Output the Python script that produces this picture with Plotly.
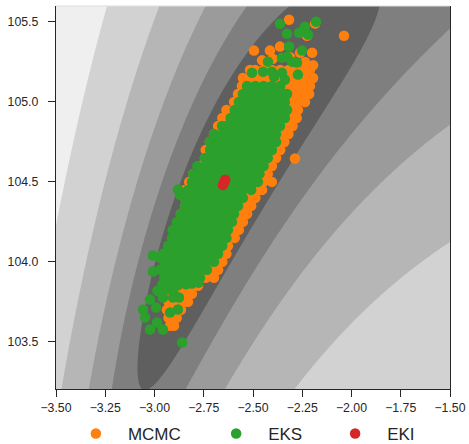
import numpy as np
import plotly.graph_objects as go

# ---------------- model used for the background contours ----------------
y_obs = [27.45, 79.7]         # observed data
obs_locations = [0.25, 0.75]  # observation points of the forward model
noise_std = 0.1               # observational noise std

x_range = [-3.5, -1.5]
y_range = [103.205, 105.6]
x_ticks = [-3.5, -3.25, -3.0, -2.75, -2.5, -2.25, -2.0, -1.75, -1.5]
y_ticks = [103.5, 104.0, 104.5, 105.0, 105.5]

# contour levels of log-misfit and their fill colours (darkest = lowest misfit)
level_start, level_end, level_step = 2.36, 5.60, 0.81
band_colors = ["#5f5f5f", "#7f7f7f", "#9b9b9b", "#b6b6b6", "#d2d2d2", "#efefef"]

series_names = ["MCMC", "EKS", "EKI"]
series_colors = ["#ff7f0e", "#2ca02c", "#d62728"]

# ---------------- samples (u1, u2) ----------------
mcmc_points = [
    (-2.317, 105.514), (-2.185, 105.49), (-2.226, 105.414), (-2.038, 105.414),
    (-2.495, 105.321), (-2.414, 105.321), (-2.363, 105.346), (-2.261, 105.308), (-2.200, 105.308),
    (-2.454, 105.26), (-2.400, 105.27), (-2.312, 105.28), (-2.236, 105.25), (-2.195, 105.23),
    (-2.515, 105.20), (-2.488, 105.20), (-2.446, 105.20), (-2.404, 105.20), (-2.362, 105.20), (-2.320, 105.20), (-2.278, 105.20), (-2.236, 105.20), (-2.211, 105.20),
    (-2.551, 105.15), (-2.509, 105.15), (-2.467, 105.15), (-2.425, 105.15), (-2.383, 105.15), (-2.341, 105.15), (-2.299, 105.15), (-2.257, 105.15), (-2.215, 105.15), (-2.195, 105.15),
    (-2.556, 105.10), (-2.530, 105.10), (-2.488, 105.10), (-2.446, 105.10), (-2.404, 105.10), (-2.362, 105.10), (-2.320, 105.10), (-2.278, 105.10), (-2.236, 105.10), (-2.211, 105.10),
    (-2.576, 105.05), (-2.551, 105.05), (-2.509, 105.05), (-2.467, 105.05), (-2.425, 105.05), (-2.383, 105.05), (-2.341, 105.05), (-2.299, 105.05), (-2.257, 105.05), (-2.215, 105.05),
    (-2.596, 105.00), (-2.572, 105.00), (-2.530, 105.00), (-2.488, 105.00), (-2.446, 105.00), (-2.404, 105.00), (-2.362, 105.00), (-2.320, 105.00), (-2.278, 105.00), (-2.236, 105.00),
    (-2.635, 104.95), (-2.593, 104.95), (-2.551, 104.95), (-2.509, 104.95), (-2.467, 104.95), (-2.425, 104.95), (-2.383, 104.95), (-2.341, 104.95), (-2.299, 104.95), (-2.272, 104.95),
    (-2.656, 104.90), (-2.614, 104.90), (-2.572, 104.90), (-2.530, 104.90), (-2.488, 104.90), (-2.446, 104.90), (-2.404, 104.90), (-2.362, 104.90), (-2.320, 104.90), (-2.278, 104.90),
    (-2.677, 104.85), (-2.635, 104.85), (-2.593, 104.85), (-2.551, 104.85), (-2.509, 104.85), (-2.467, 104.85), (-2.425, 104.85), (-2.383, 104.85), (-2.341, 104.85), (-2.299, 104.85),
    (-2.698, 104.80), (-2.656, 104.80), (-2.614, 104.80), (-2.572, 104.80), (-2.530, 104.80), (-2.488, 104.80), (-2.446, 104.80), (-2.404, 104.80), (-2.362, 104.80), (-2.320, 104.80),
    (-2.719, 104.75), (-2.677, 104.75), (-2.635, 104.75), (-2.593, 104.75), (-2.551, 104.75), (-2.509, 104.75), (-2.467, 104.75), (-2.425, 104.75), (-2.383, 104.75), (-2.341, 104.75),
    (-2.740, 104.70), (-2.698, 104.70), (-2.656, 104.70), (-2.614, 104.70), (-2.572, 104.70), (-2.530, 104.70), (-2.488, 104.70), (-2.446, 104.70), (-2.404, 104.70), (-2.362, 104.70),
    (-2.744, 104.65), (-2.719, 104.65), (-2.677, 104.65), (-2.635, 104.65), (-2.593, 104.65), (-2.551, 104.65), (-2.509, 104.65), (-2.467, 104.65), (-2.425, 104.65), (-2.383, 104.65), (-2.287, 104.646),
    (-2.769, 104.60), (-2.740, 104.60), (-2.698, 104.60), (-2.656, 104.60), (-2.614, 104.60), (-2.572, 104.60), (-2.530, 104.60), (-2.488, 104.60), (-2.446, 104.60), (-2.404, 104.60),
    (-2.803, 104.55), (-2.761, 104.55), (-2.719, 104.55), (-2.677, 104.55), (-2.635, 104.55), (-2.593, 104.55), (-2.551, 104.55), (-2.509, 104.55), (-2.467, 104.55), (-2.425, 104.55),
    (-2.824, 104.50), (-2.782, 104.50), (-2.740, 104.50), (-2.698, 104.50), (-2.656, 104.50), (-2.614, 104.50), (-2.572, 104.50), (-2.530, 104.50), (-2.488, 104.50), (-2.446, 104.50), (-2.404, 104.50),
    (-2.845, 104.45), (-2.803, 104.45), (-2.761, 104.45), (-2.719, 104.45), (-2.677, 104.45), (-2.635, 104.45), (-2.593, 104.45), (-2.551, 104.45), (-2.509, 104.45), (-2.467, 104.45), (-2.454, 104.45),
    (-2.845, 104.40), (-2.824, 104.40), (-2.782, 104.40), (-2.740, 104.40), (-2.698, 104.40), (-2.656, 104.40), (-2.614, 104.40), (-2.572, 104.40), (-2.530, 104.40), (-2.488, 104.40),
    (-2.845, 104.35), (-2.803, 104.35), (-2.761, 104.35), (-2.719, 104.35), (-2.677, 104.35), (-2.635, 104.35), (-2.593, 104.35), (-2.551, 104.35), (-2.509, 104.35),
    (-2.866, 104.30), (-2.824, 104.30), (-2.782, 104.30), (-2.740, 104.30), (-2.698, 104.30), (-2.656, 104.30), (-2.614, 104.30), (-2.572, 104.30), (-2.530, 104.30),
    (-2.865, 104.25), (-2.845, 104.25), (-2.803, 104.25), (-2.761, 104.25), (-2.719, 104.25), (-2.677, 104.25), (-2.635, 104.25), (-2.593, 104.25), (-2.551, 104.25),
    (-2.881, 104.20), (-2.866, 104.20), (-2.824, 104.20), (-2.782, 104.20), (-2.740, 104.20), (-2.698, 104.20), (-2.656, 104.20), (-2.614, 104.20), (-2.572, 104.20),
    (-2.887, 104.15), (-2.845, 104.15), (-2.803, 104.15), (-2.761, 104.15), (-2.719, 104.15), (-2.677, 104.15), (-2.635, 104.15), (-2.593, 104.15),
    (-2.908, 104.10), (-2.866, 104.10), (-2.824, 104.10), (-2.782, 104.10), (-2.740, 104.10), (-2.698, 104.10), (-2.656, 104.10), (-2.627, 104.10),
    (-2.929, 104.05), (-2.887, 104.05), (-2.845, 104.05), (-2.803, 104.05), (-2.761, 104.05), (-2.719, 104.05), (-2.677, 104.05), (-2.635, 104.05),
    (-2.921, 104.00), (-2.908, 104.00), (-2.866, 104.00), (-2.824, 104.00), (-2.782, 104.00), (-2.740, 104.00), (-2.698, 104.00), (-2.656, 104.00),
    (-2.929, 103.95), (-2.887, 103.95), (-2.845, 103.95), (-2.803, 103.95), (-2.761, 103.95), (-2.719, 103.95), (-2.677, 103.95),
    (-2.921, 103.90), (-2.908, 103.90), (-2.866, 103.90), (-2.824, 103.90), (-2.782, 103.90), (-2.740, 103.90), (-2.698, 103.90),
    (-2.929, 103.85), (-2.887, 103.85), (-2.845, 103.85), (-2.803, 103.85), (-2.779, 103.85),
    (-2.937, 103.80), (-2.908, 103.80), (-2.866, 103.80), (-2.824, 103.80), (-2.810, 103.80),
    (-2.929, 103.75), (-2.887, 103.75), (-2.845, 103.75), (-2.830, 103.75),
    (-2.937, 103.70), (-2.908, 103.70), (-2.866, 103.70),
    (-2.929, 103.65), (-2.887, 103.65),
    (-2.921, 103.60), (-2.901, 103.60),
]

eks_points = [
    (-2.363, 105.489), (-2.180, 105.502), (-2.236, 105.471),
    (-2.327, 105.427), (-2.266, 105.433), (-2.221, 105.421),
    (-2.317, 105.346), (-2.251, 105.321),
    (-2.424, 105.252), (-2.353, 105.277), (-2.327, 105.283), (-2.302, 105.252), (-2.277, 105.246),
    (-2.505, 105.183), (-2.449, 105.189), (-2.404, 105.189), (-2.393, 105.158), (-2.353, 105.183), (-2.338, 105.139), (-2.272, 105.171),
    (-2.530, 105.10), (-2.488, 105.10), (-2.446, 105.10), (-2.404, 105.10), (-2.362, 105.10),
    (-2.551, 105.05), (-2.509, 105.05), (-2.467, 105.05), (-2.425, 105.05), (-2.383, 105.05), (-2.341, 105.05), (-2.327, 105.05),
    (-2.572, 105.00), (-2.530, 105.00), (-2.488, 105.00), (-2.446, 105.00), (-2.404, 105.00), (-2.362, 105.00), (-2.338, 105.00),
    (-2.593, 104.95), (-2.551, 104.95), (-2.509, 104.95), (-2.467, 104.95), (-2.425, 104.95), (-2.383, 104.95), (-2.341, 104.95), (-2.327, 104.95),
    (-2.614, 104.90), (-2.572, 104.90), (-2.530, 104.90), (-2.488, 104.90), (-2.446, 104.90), (-2.404, 104.90), (-2.362, 104.90), (-2.338, 104.90),
    (-2.657, 104.85), (-2.635, 104.85), (-2.593, 104.85), (-2.551, 104.85), (-2.509, 104.85), (-2.467, 104.85), (-2.425, 104.85), (-2.383, 104.85), (-2.363, 104.85),
    (-2.698, 104.80), (-2.656, 104.80), (-2.614, 104.80), (-2.572, 104.80), (-2.530, 104.80), (-2.488, 104.80), (-2.446, 104.80), (-2.404, 104.80), (-2.383, 104.80),
    (-2.719, 104.75), (-2.677, 104.75), (-2.635, 104.75), (-2.593, 104.75), (-2.551, 104.75), (-2.509, 104.75), (-2.467, 104.75), (-2.425, 104.75), (-2.383, 104.75),
    (-2.718, 104.70), (-2.698, 104.70), (-2.656, 104.70), (-2.614, 104.70), (-2.572, 104.70), (-2.530, 104.70), (-2.488, 104.70), (-2.446, 104.70), (-2.404, 104.70),
    (-2.744, 104.65), (-2.719, 104.65), (-2.677, 104.65), (-2.635, 104.65), (-2.593, 104.65), (-2.551, 104.65), (-2.509, 104.65), (-2.467, 104.65), (-2.425, 104.65),
    (-2.782, 104.60), (-2.740, 104.60), (-2.698, 104.60), (-2.656, 104.60), (-2.614, 104.60), (-2.572, 104.60), (-2.530, 104.60), (-2.488, 104.60), (-2.446, 104.60),
    (-2.803, 104.55), (-2.761, 104.55), (-2.719, 104.55), (-2.677, 104.55), (-2.635, 104.55), (-2.593, 104.55), (-2.551, 104.55), (-2.509, 104.55), (-2.467, 104.55),
    (-2.810, 104.50), (-2.782, 104.50), (-2.740, 104.50), (-2.698, 104.50), (-2.656, 104.50), (-2.614, 104.50), (-2.572, 104.50), (-2.530, 104.50), (-2.488, 104.50), (-2.475, 104.50),
    (-2.830, 104.45), (-2.803, 104.45), (-2.761, 104.45), (-2.719, 104.45), (-2.677, 104.45), (-2.635, 104.45), (-2.593, 104.45), (-2.551, 104.45), (-2.509, 104.45),
    (-2.881, 104.452), (-2.871, 104.42),
    (-2.845, 104.40), (-2.824, 104.40), (-2.782, 104.40), (-2.740, 104.40), (-2.698, 104.40), (-2.656, 104.40), (-2.614, 104.40), (-2.572, 104.40), (-2.551, 104.40),
    (-2.845, 104.35), (-2.803, 104.35), (-2.761, 104.35), (-2.719, 104.35), (-2.677, 104.35), (-2.635, 104.35), (-2.593, 104.35), (-2.576, 104.35),
    (-2.866, 104.30), (-2.824, 104.30), (-2.782, 104.30), (-2.740, 104.30), (-2.698, 104.30), (-2.656, 104.30), (-2.614, 104.30), (-2.596, 104.30),
    (-2.887, 104.25), (-2.845, 104.25), (-2.803, 104.25), (-2.761, 104.25), (-2.719, 104.25), (-2.677, 104.25), (-2.635, 104.25), (-2.607, 104.25),
    (-2.908, 104.20), (-2.866, 104.20), (-2.824, 104.20), (-2.782, 104.20), (-2.740, 104.20), (-2.698, 104.20), (-2.656, 104.20), (-2.627, 104.20),
    (-2.911, 104.15), (-2.887, 104.15), (-2.845, 104.15), (-2.803, 104.15), (-2.761, 104.15), (-2.719, 104.15), (-2.677, 104.15), (-2.635, 104.15),
    (-2.931, 104.10), (-2.908, 104.10), (-2.866, 104.10), (-2.824, 104.10), (-2.782, 104.10), (-2.740, 104.10), (-2.698, 104.10), (-2.656, 104.10),
    (-2.957, 104.05), (-2.929, 104.05), (-2.887, 104.05), (-2.845, 104.05), (-2.803, 104.05), (-2.761, 104.05), (-2.719, 104.05), (-2.677, 104.05),
    (-3.008, 104.04), (-2.972, 104.027),
    (-2.950, 104.00), (-2.908, 104.00), (-2.866, 104.00), (-2.824, 104.00), (-2.782, 104.00), (-2.740, 104.00), (-2.698, 104.00),
    (-2.971, 103.95), (-2.929, 103.95), (-2.887, 103.95), (-2.845, 103.95), (-2.803, 103.95), (-2.761, 103.95), (-2.734, 103.95),
    (-3.008, 103.94),
    (-2.950, 103.90), (-2.908, 103.90), (-2.866, 103.90), (-2.824, 103.90), (-2.782, 103.90), (-2.769, 103.90),
    (-2.960, 103.86), (-2.920, 103.865), (-2.880, 103.855), (-2.840, 103.86), (-2.810, 103.865), (-2.775, 103.87),
    (-2.985, 103.82), (-2.945, 103.825), (-2.905, 103.815),
    (-3.023, 103.764), (-2.957, 103.777), (-2.906, 103.777), (-2.876, 103.777),
    (-3.058, 103.702), (-2.992, 103.714), (-2.921, 103.683), (-2.881, 103.702),
    (-3.048, 103.652), (-2.987, 103.621),
    (-3.023, 103.577), (-2.957, 103.577),
    (-2.860, 103.496),
]

eki_points = [(-2.653, 104.480), (-2.647, 104.497), (-2.641, 104.514)]

# ---------------- background contour surface ----------------
u1_grid = np.linspace(x_range[0], x_range[1], 401)
u2_grid = np.linspace(103.2, 105.6, 401)
U1, U2 = np.meshgrid(u1_grid, u2_grid)
misfit = np.zeros_like(U1)
for loc, yo in zip(obs_locations, y_obs):
    pred = U2 * loc + np.exp(-U1) * (loc - loc ** 2) / 2.0
    misfit += (yo - pred) ** 2
misfit = misfit / (2 * noise_std ** 2)
log_misfit = np.log(misfit)

n_bands = len(band_colors)
colorscale = [[i / (n_bands - 1), c] for i, c in enumerate(band_colors)]

fig = go.Figure()
fig.add_trace(go.Contour(
    x=u1_grid, y=u2_grid, z=log_misfit,
    autocontour=False,
    contours=dict(start=level_start, end=level_end, size=level_step,
                  coloring="fill", showlines=False),
    line=dict(width=0),
    colorscale=colorscale, showscale=False, hoverinfo="skip", showlegend=False,
))

all_points = [mcmc_points, eks_points, eki_points]
legend_ids = ["legend", "legend2", "legend3"]
for name, color, pts, lg in zip(series_names, series_colors, all_points, legend_ids):
    fig.add_trace(go.Scatter(
        x=[p[0] for p in pts], y=[p[1] for p in pts],
        mode="markers", name=name,
        marker=dict(color=color, size=10.5, line=dict(width=0)),
        legend=lg,
    ))

axis_color = "#262626"
tick_font = dict(family="Liberation Sans, Arial, sans-serif", size=12.3, color=axis_color)
legend_font = dict(family="Liberation Sans, Arial, sans-serif", size=17, color=axis_color)

legend_common = dict(orientation="h", yanchor="middle", y=-0.1175, xanchor="left",
                     bgcolor="rgba(0,0,0,0)", borderwidth=0, font=legend_font,
                     itemwidth=54)
fig.update_layout(
    width=469, height=444,
    margin=dict(l=56, r=19, t=6, b=55, autoexpand=False),
    paper_bgcolor="white", plot_bgcolor="white",
    showlegend=True,
    legend=dict(x=0.020, **legend_common),
    legend2=dict(x=0.376, **legend_common),
    legend3=dict(x=0.678, **legend_common),
    xaxis=dict(range=x_range, tickvals=x_ticks, tickformat=".2f",
               showgrid=False, zeroline=False, showline=True, linecolor=axis_color,
               linewidth=1.3, ticks="outside", ticklen=7, tickwidth=1.3,
               tickcolor=axis_color, tickfont=tick_font, mirror=False),
    yaxis=dict(range=y_range, tickvals=y_ticks, tickformat=".1f",
               showgrid=False, zeroline=False, showline=True, linecolor=axis_color,
               linewidth=1.3, ticks="outside", ticklen=7, tickwidth=1.3,
               tickcolor=axis_color, tickfont=tick_font, mirror=True,
               ticklabelstandoff=7),
)
fig.add_shape(type="line", xref="paper", yref="paper", x0=0, x1=1, y0=1, y1=1,
              line=dict(color="#dddddd", width=1))

fig.write_html("out.html", config={"displayModeBar": False},
               post_script="document.body.style.margin='0px';")
